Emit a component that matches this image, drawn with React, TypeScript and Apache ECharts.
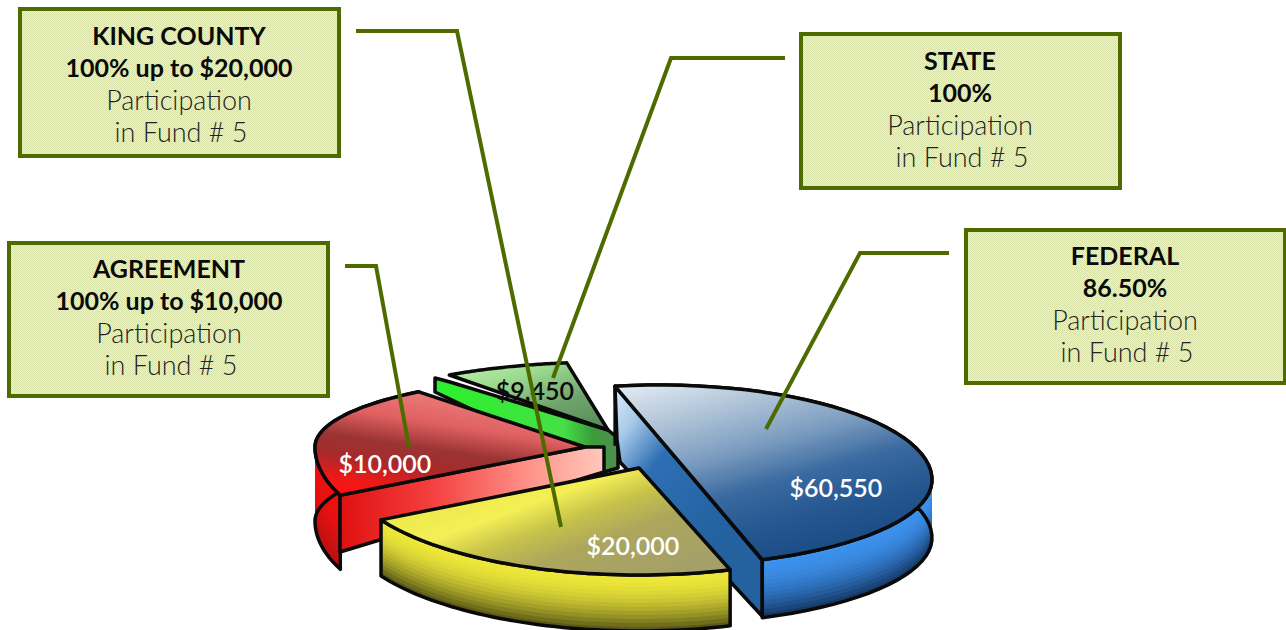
import React, { useEffect, useRef } from "react";
import * as echarts from "echarts";

// ---- data ----
const categories = ["STATE", "AGREEMENT", "FEDERAL", "KING COUNTY"];
const amounts = [9450, 10000, 60550, 20000];
const participation = ["100%", "100% up to $10,000", "86.50%", "100% up to $20,000"];
const participationLines = ["Participation", "in Fund # 5"];

const T = 100000;
const { LinearGradient } = echarts.graphic;
const lg = (x: number, y: number, x2: number, y2: number, stops: [number, string][]) =>
  new LinearGradient(x, y, x2, y2, stops.map(([offset, color]) => ({ offset, color })));

// ---- drawing layout: the picture is a hand drawn perspective pie, so each wedge has its own
// centre, ellipse and a stretch that turns its share of the total into a drawn sweep ----
const wedgeLayout = [
  {
    cx: 608, cy: 430, rx: 270, ryUp: 68, ryDown: 68, start: 234, stretch: 0.8, depth: 0, tip: true,
    top: () => lg(0, 0, 0.8, 1, [[0, "#c4f5b4"], [0.35, "#9ad98e"], [0.7, "#6fa56d"], [1, "#5b8f5b"]]),
    wallTop: "#39f039", wallBottom: "#39f039",
    faces: [{
      pts: [[450, 382], [608, 430], [618, 438], [618, 468], [604, 472], [435, 392], [435, 378]],
      fill: () => lg(0, 0, 1, 0, [[0, "#2cf02c"], [0.7, "#45e045"], [0.86, "#3c9c3c"], [1, "#4f8f4f"]]),
    }],
    labelX: 535, labelY: 390, labelFill: "#0a0a0a",
  },
  {
    cx: 585, cy: 447, rx: 270, ryUp: 70, ryDown: 114, start: 155, stretch: 2.14, depth: 74, tip: true,
    top: () => lg(0.55, 0, 0.15, 1, [[0, "#ee8080"], [0.3, "#e06060"], [0.52, "#9a3434"], [0.68, "#a62a2a"], [0.88, "#f01818"], [1, "#ff1010"]]),
    wallTop: "#f01010", wallBottom: "#b81010",
    faces: [{
      pts: [[340, 495], [585, 447], [604, 447], [604, 472], [340, 552]],
      fill: () => lg(0, 0, 1, 0, [[0, "#e01010"], [0.35, "#f44040"], [0.75, "#ff9a90"], [1, "#ffc8bc"]]),
    }],
    labelX: 385, labelY: 463, labelFill: "#ffffff",
  },
  {
    cx: 660, cy: 480, rx: 272, ryUp: 95, ryDown: 86, start: 260.5, stretch: 0.768, depth: 58, tip: false,
    top: () => lg(0, 0, 0.5, 1, [[0, "#e4edf5"], [0.22, "#b4c7da"], [0.45, "#7c9dc0"], [0.65, "#39699f"], [0.85, "#245690"], [1, "#1d4d86"]]),
    wallTop: "#3d92ee", wallBottom: "#163a68",
    faces: [{
      pts: [[615, 386], [762, 560], [762, 616], [620, 462], [617, 440]],
      fill: () => lg(0, 0, 0.6, 0.75, [[0, "#dcecf9"], [0.2, "#a9cbea"], [0.45, "#2e6fb4"], [1, "#23619f"]]),
    }],
    labelX: 836, labelY: 487, labelFill: "#ffffff",
  },
  {
    cx: 639, cy: 468, rx: 295, ryUp: 107, ryDown: 107, start: 72, stretch: 1.097, depth: 56, tip: true,
    top: () => lg(0.1, 0, 1, 0.75, [[0, "#e7e240"], [0.4, "#f3ef55"], [0.55, "#c8c34a"], [0.72, "#aca65c"], [1, "#a5a068"]]),
    wallTop: "#efe93a", wallBottom: "#5c5a18",
    faces: [],
    labelX: 633, labelY: 545, labelFill: "#ffffff",
  },
];

// ---- callout layout ----
const calloutLayout = [
  { x: 801, y: 34, w: 319, h: 154, textX: 960, textY: 60, leader: [[785, 58], [671, 58], [553, 378]] },
  { x: 9, y: 243, w: 319, h: 153, textX: 169, textY: 268, leader: [[345, 266], [376, 266], [409, 447]] },
  { x: 966, y: 230, w: 319, h: 153, textX: 1125, textY: 255, leader: [[949, 253], [860, 253], [766, 429]] },
  { x: 20, y: 9, w: 319, h: 147, textX: 179, textY: 35, leader: [[356, 31], [457, 31], [561, 527]] },
];
const OUTLINE = "#4e6b00";
const HEAD_FONT = "bold 25px Lato, 'Open Sans', sans-serif";
const BODY_FONT = "300 27px Lato, 'Open Sans', sans-serif";

const mix = (a: string, b: string, t: number) => {
  const p = (s: string, i: number) => parseInt(s.slice(1 + i * 2, 3 + i * 2), 16);
  const c = [0, 1, 2].map((i) => Math.round(p(a, i) + (p(b, i) - p(a, i)) * t));
  return `rgb(${c[0]},${c[1]},${c[2]})`;
};

function renderItem(params: any, api: any) {
  const value = api.value(0);
  const l = wedgeLayout[params.dataIndex];
  const sweep = (value / T) * 360 * l.stretch;
  const arc: number[][] = [];
  const N = 48;
  for (let i = 0; i <= N; i++) {
    const a = ((l.start + (sweep * i) / N) * Math.PI) / 180;
    const s = Math.sin(a);
    arc.push([l.cx + l.rx * Math.cos(a), l.cy + (s < 0 ? l.ryUp : l.ryDown) * s]);
  }
  const children: any[] = [];
  const black = { stroke: "#0a0a0a", lineWidth: 3.5, lineJoin: "round" };
  if (l.depth > 0) {
    const bands = 14;
    for (let k = bands; k >= 1; k--) {
      const d = (l.depth * k) / bands;
      children.push({
        type: "polygon",
        shape: { points: [...arc, ...arc.map(([x, y]) => [x, y + d]).reverse()] },
        style: { fill: mix(l.wallTop, l.wallBottom, Math.pow(k / bands, 2)) },
      });
    }
    children.push({
      type: "polygon",
      shape: { points: [...arc, ...arc.map(([x, y]) => [x, y + l.depth]).reverse()] },
      style: { fill: "none", ...black },
    });
  }
  l.faces.forEach((f) => {
    children.push({ type: "polygon", shape: { points: f.pts }, style: { fill: f.fill(), ...black } });
  });
  children.push({
    type: "polygon",
    shape: { points: l.tip ? [[l.cx, l.cy], ...arc] : arc },
    style: { fill: l.top(), ...black },
  });
  children.push({
    type: "text",
    style: {
      text: "$" + value.toLocaleString("en-US"),
      x: l.labelX,
      y: l.labelY,
      fill: l.labelFill,
      font: "600 25px Lato, 'Open Sans', sans-serif",
      align: "center",
      verticalAlign: "middle",
    },
  });
  return { type: "group", children };
}

export default function App() {
  const ref = useRef<HTMLDivElement>(null);
  useEffect(() => {
    if (!ref.current) return;
    const chart = echarts.init(ref.current, undefined, { renderer: "svg" });
    const tile = document.createElement("canvas");
    tile.width = 2;
    tile.height = 2;
    const g = tile.getContext("2d")!;
    g.fillStyle = "#eef2d2";
    g.fillRect(0, 0, 2, 2);
    g.fillStyle = "#d8e2a8";
    g.fillRect(0, 0, 1, 1);
    g.fillRect(1, 1, 1, 1);
    const boxFill: any = { image: tile, repeat: "repeat" };

    const graphic: any[] = [];
    calloutLayout.forEach((c, i) => {
      graphic.push({
        type: "rect",
        z: 20,
        shape: { x: c.x, y: c.y, width: c.w, height: c.h },
        style: { fill: boxFill, stroke: OUTLINE, lineWidth: 4 },
      });
      const lines = [categories[i], participation[i], ...participationLines];
      lines.forEach((text, j) => {
        graphic.push({
          type: "text",
          z: 21,
          style: {
            text,
            x: c.textX + (j === 3 ? 2 : 0),
            y: c.textY + j * 32,
            align: "center",
            verticalAlign: "middle",
            fill: j < 2 ? "#0a0a0a" : "#222222",
            font: j < 2 ? HEAD_FONT : BODY_FONT,
          },
        });
      });
      graphic.push({
        type: "polyline",
        z: 22,
        shape: { points: c.leader },
        style: { fill: "none", stroke: OUTLINE, lineWidth: 4 },
      });
    });

    chart.setOption({
      animation: false,
      backgroundColor: "#ffffff",
      graphic,
      series: [
        {
          type: "custom",
          coordinateSystem: "none",
          silent: true,
          data: amounts.map((v, i) => ({ name: categories[i], value: [v] })),
          renderItem,
        },
      ],
    });
    return () => chart.dispose();
  }, []);
  return <div ref={ref} style={{ position: "fixed", left: 0, top: 0, width: 1286, height: 630 }} />;
}
